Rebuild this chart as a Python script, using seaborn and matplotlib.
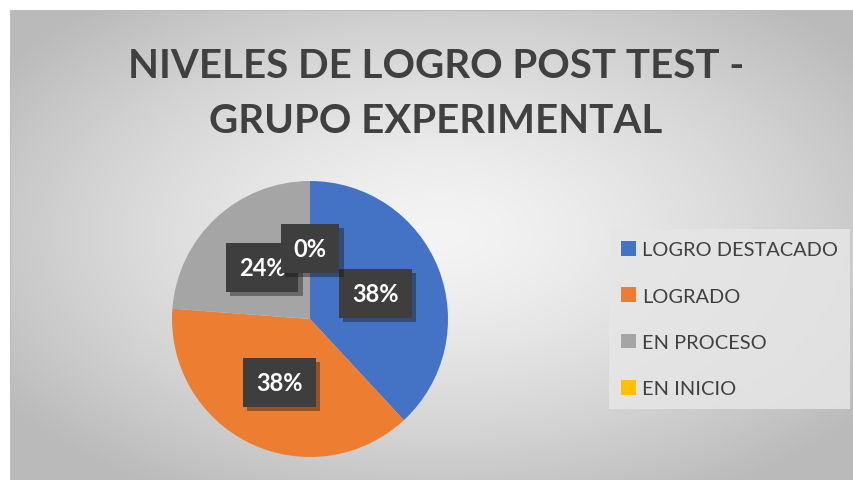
import numpy as np
import matplotlib
matplotlib.use("Agg")
import matplotlib.pyplot as plt
import matplotlib.patheffects as pe
from matplotlib.patches import Patch
import seaborn as sns

# Data
categorias = ["LOGRO DESTACADO", "LOGRADO", "EN PROCESO", "EN INICIO"]
estudiantes = [8, 8, 5, 0]
colores = ["#4472C4", "#ED7D31", "#A5A5A5", "#FFC000"]
titulo = "NIVELES DE LOGRO POST TEST -\nGRUPO EXPERIMENTAL"

sns.set_theme(style="white")
plt.rcParams['font.family'] = ['Lato', 'DejaVu Sans']

W, H = 854, 481
fig = plt.figure(figsize=(W / 100, H / 100), dpi=100)
fig.patch.set_facecolor("white")

# gradient background (chart area)
x0, y0, x1, y1 = 10, 11, 854, 481
bg = fig.add_axes([x0 / W, 0, (x1 - x0) / W, (y1 - y0) / H])
xx, yy = np.meshgrid(np.linspace(x0, x1, 400), np.linspace(y0, y1, 240))
r = np.sqrt(((xx - 440) / 480) ** 2 + ((yy - 235) / 270) ** 2)
g = 244 - 50 * np.clip(r, 0, 1.1) ** 1.4
bg.imshow(np.dstack([g, g, g]) / 255, aspect="auto", extent=[0, 1, 0, 1])
bg.set_axis_off()
bg.add_line(plt.Line2D([0, 1], [1, 1], color="#bdbdbd", lw=1, transform=bg.transAxes))
bg.add_line(plt.Line2D([0, 0], [0, 1], color="#bdbdbd", lw=1, transform=bg.transAxes))

fig.text(436 / W, 1 - 94 / H, titulo, ha="center", va="center", fontsize=29,
         fontweight="bold", color="#404040", linespacing=1.62)

# pie
cx, cy, rad = 310, 320, 138
ax = fig.add_axes([(cx - rad) / W, (H - cy - rad) / H, 2 * rad / W, 2 * rad / H])
wedges, _, autotexts = ax.pie(estudiantes, colors=colores, startangle=90, counterclock=False,
                              autopct=lambda p: f"{p:.0f}%", pctdistance=0.51,
                              wedgeprops=dict(linewidth=0))
ax.set_xlim(-1, 1)
ax.set_ylim(-1, 1)
ax.set_aspect("equal")

for t in autotexts:
    t.set_color("white")
    t.set_fontsize(17)
    t.set_fontweight("bold")
    t.set_bbox(dict(boxstyle="square,pad=0.55", facecolor="#3e3e3e", edgecolor="none"))
    t.get_bbox_patch().set_path_effects([pe.SimplePatchShadow(offset=(3, -3), alpha=0.4),
                                         pe.Normal()])

handles = [Patch(facecolor=c, edgecolor="none") for c in colores]
leg = fig.legend(handles, categorias, loc="upper left",
                 bbox_to_anchor=(609 / W, 1 - 230 / H), frameon=True, fontsize=14.4,
                 handlelength=0.75, handleheight=0.75, handletextpad=0.3,
                 labelspacing=1.45, borderpad=0.6, borderaxespad=0, fancybox=False)
leg.get_frame().set_facecolor("#e6e6e6")
leg.get_frame().set_edgecolor("none")
leg.get_frame().set_alpha(0.85)
for txt in leg.get_texts():
    txt.set_color("#404040")

fig.savefig("out.png", dpi=100)
